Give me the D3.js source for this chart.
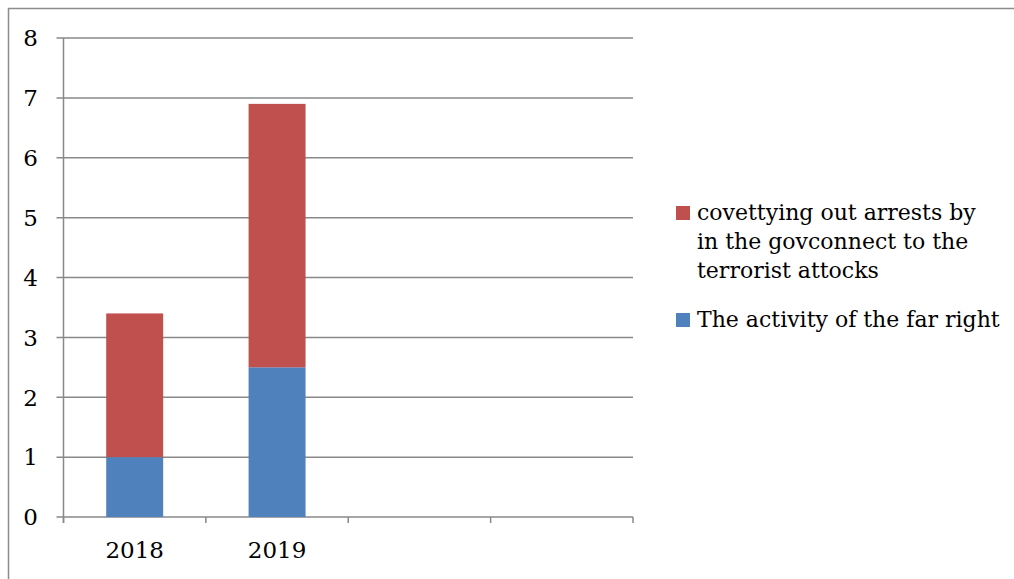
<!DOCTYPE html>
<html><head><meta charset="utf-8">
<script src="https://cdn.jsdelivr.net/npm/d3@7"></script>
<style>body{margin:0;background:#fff}svg{display:block}</style>
</head><body>
<svg id="c" width="1014" height="579"></svg>
<script>
const categories = ["2018", "2019", "", " "];
const farRight = [1, 2.5, null, null];
const arrests = [2.4, 4.4, null, null];
const yTicks = [0, 1, 2, 3, 4, 5, 6, 7, 8];
const seriesNames = ["The activity of the far right", "covettying out arrests by in the govconnect to the terrorist attocks"];
const legendLines = [["covettying out arrests by", "in the govconnect to the", "terrorist attocks"], ["The activity of the far right"]];
const colors = ["#4F81BD", "#C0504D"];

(function () {
const svg = d3.select("#c");
const font = "'DejaVu Serif', serif";
const gridColor = "#898989";

svg.append("rect").attr("x", 8.5).attr("y", 8.5).attr("width", 1020).attr("height", 600)
  .attr("fill", "none").attr("stroke", "#8c8c8c").attr("stroke-width", 1.5);

const pL = 63.5, pR = 633, pT = 38, pB = 517;
const x = d3.scaleBand().domain(categories).range([pL, pR]).paddingInner(0.6).paddingOuter(0.3);
const xb = d3.scaleBand().domain(categories).range([pL, pR]);
const y = d3.scaleLinear().domain([0, 8]).range([pB, pT]);

const g = svg.append("g");
g.selectAll(".grid").data(yTicks).join("line")
  .attr("x1", pL - 7).attr("x2", pR).attr("y1", d => y(d)).attr("y2", d => y(d))
  .attr("stroke", gridColor).attr("stroke-width", 1.5);

const rows = categories.map((c, i) => ({c, a: farRight[i], b: arrests[i]})).filter(d => d.a != null);
const stack = d3.stack().keys(["a", "b"])(rows);
stack.forEach((layer, k) => {
  g.selectAll(".bar" + k).data(layer).join("rect")
    .attr("x", d => x(d.data.c)).attr("width", x.bandwidth())
    .attr("y", d => y(d[1])).attr("height", d => y(d[0]) - y(d[1]))
    .attr("fill", colors[k]);
});

g.append("line").attr("x1", pL).attr("x2", pL).attr("y1", pT).attr("y2", pB + 6)
  .attr("stroke", gridColor).attr("stroke-width", 1.5);
const xt = categories.map((c) => xb(c)).concat([pR]);
g.selectAll(".xt").data(xt).join("line")
  .attr("x1", d => d).attr("x2", d => d).attr("y1", pB).attr("y2", pB + 6)
  .attr("stroke", gridColor).attr("stroke-width", 1.5);

g.selectAll(".yl").data(yTicks).join("text")
  .attr("x", 38).attr("y", d => y(d)).attr("dy", "0.36em").attr("text-anchor", "end")
  .attr("font-family", font).attr("font-size", 23).attr("fill", "#000").text(d => d);

g.selectAll(".xl").data(categories.slice(0, 2)).join("text")
  .attr("x", d => x(d) + x.bandwidth() / 2).attr("y", 558).attr("text-anchor", "middle")
  .attr("font-family", font).attr("font-size", 23).attr("fill", "#000").text(d => d);

const legY = [220, 327];
const legColors = [colors[1], colors[0]];
legendLines.forEach((lines, i) => {
  svg.append("rect").attr("x", 676).attr("y", legY[i] - 14).attr("width", 14).attr("height", 14).attr("fill", legColors[i]);
  const t = svg.append("text").attr("x", 697).attr("y", legY[i]).attr("font-family", font).attr("font-size", 22).attr("fill", "#000");
  lines.forEach((l, j) => t.append("tspan").attr("x", 697).attr("dy", j === 0 ? 0 : 29).text(l));
});
})();
</script>
</body></html>
